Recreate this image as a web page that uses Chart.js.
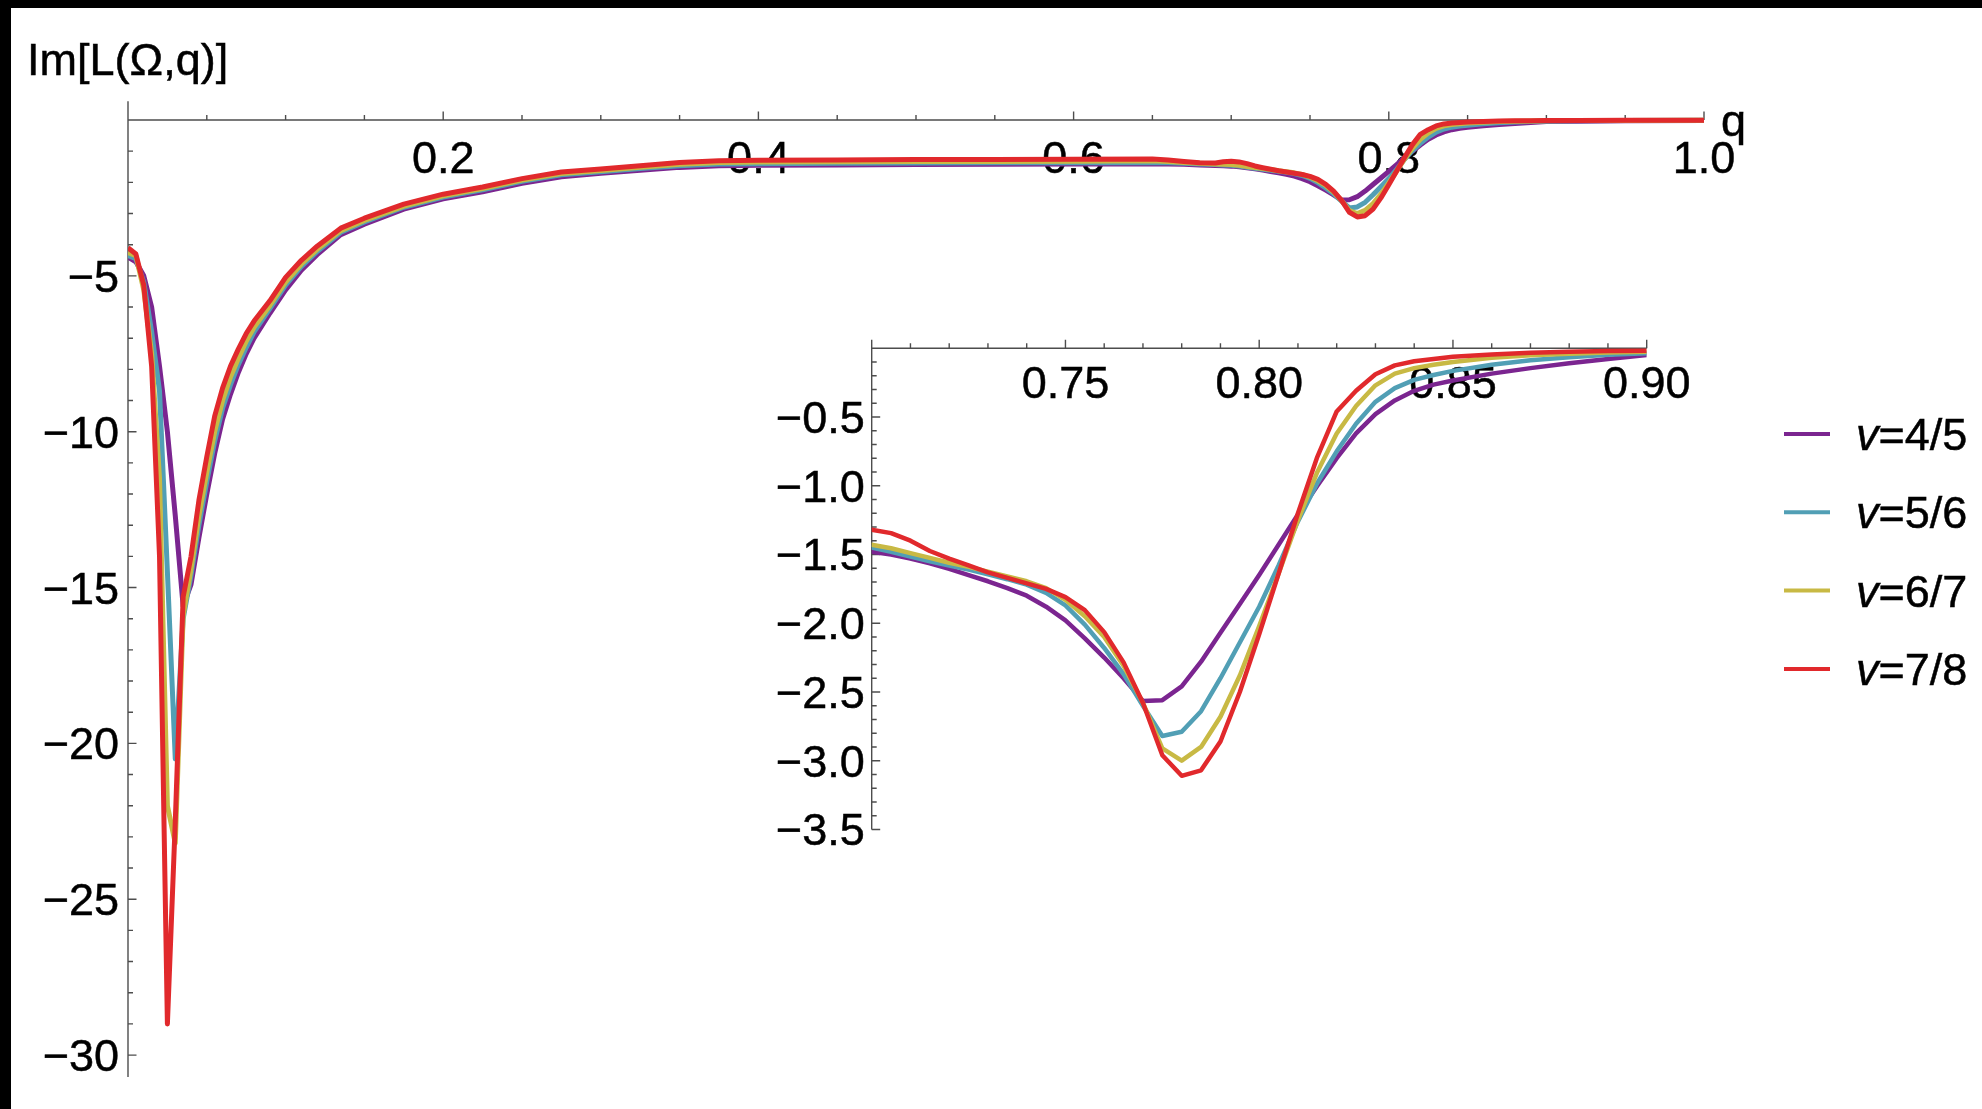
<!DOCTYPE html>
<html>
<head>
<meta charset="utf-8">
<title>Im[L(Ω,q)]</title>
<script src="https://cdn.jsdelivr.net/npm/chart.js@4.4.1/dist/chart.umd.min.js"></script>
<style>
  html, body { margin: 0; padding: 0; width: 1982px; height: 1109px; overflow: hidden; background: #000; }
  #sheet { position: absolute; left: 11px; top: 8px; right: 0; bottom: 0; background: #fff; }
  canvas { position: absolute; left: 0; top: 0; }
</style>
</head>
<body>
<div id="sheet"></div>
<canvas id="mainChart" width="1982" height="1109"></canvas>
<canvas id="insetChart" width="1982" height="1109"></canvas>
<script>
// Momentum samples q
const qValues = [
  0, 0.005, 0.01, 0.015, 0.02, 0.025, 0.03, 0.035, 0.04, 0.045,
  0.05, 0.055, 0.06, 0.065, 0.07, 0.075, 0.08, 0.09, 0.10, 0.11,
  0.12, 0.135, 0.15, 0.175, 0.2, 0.225, 0.25, 0.275, 0.3, 0.325,
  0.35, 0.375, 0.4, 0.45, 0.5, 0.55, 0.6, 0.65, 0.66, 0.67,
  0.68, 0.69, 0.695, 0.70, 0.705, 0.71, 0.715, 0.72, 0.725, 0.73,
  0.735, 0.74, 0.745, 0.75, 0.755, 0.76, 0.765, 0.77, 0.775, 0.78,
  0.785, 0.79, 0.795, 0.80, 0.805, 0.81, 0.815, 0.82, 0.825, 0.83,
  0.835, 0.84, 0.845, 0.85, 0.86, 0.87, 0.88, 0.89, 0.90, 0.92,
  0.95, 1.0
];

// Im[L(Ω,q)] for each filling v
const imL_v45 = [
  -4.40, -4.55, -5.0, -6.0, -7.9, -10.0, -12.7, -15.6, -14.9, -13.4,
  -12.0, -10.7, -9.6, -8.8, -8.1, -7.5, -7.0, -6.2, -5.45, -4.82,
  -4.32, -3.68, -3.34, -2.86, -2.53, -2.30, -2.03, -1.82, -1.71, -1.61,
  -1.52, -1.47, -1.45, -1.44, -1.43, -1.42, -1.41, -1.40, -1.41, -1.42,
  -1.44, -1.46, -1.47, -1.48, -1.50, -1.53, -1.565, -1.605, -1.65, -1.695,
  -1.745, -1.80, -1.88, -1.98, -2.11, -2.25, -2.40, -2.565, -2.56, -2.46,
  -2.28, -2.07, -1.86, -1.65, -1.43, -1.21, -1.0, -0.80, -0.62, -0.48,
  -0.38, -0.31, -0.265, -0.235, -0.185, -0.145, -0.11, -0.078, -0.05, -0.038,
  -0.026, -0.015
];
const imL_v56 = [
  -4.35, -4.45, -5.2, -6.8, -8.7, -14.5, -20.5, -16.0, -14.6, -13.0,
  -11.6, -10.3, -9.25, -8.5, -7.85, -7.3, -6.8, -6.05, -5.3, -4.7,
  -4.22, -3.60, -3.27, -2.80, -2.47, -2.24, -1.97, -1.76, -1.66, -1.56,
  -1.47, -1.41, -1.40, -1.39, -1.38, -1.37, -1.37, -1.36, -1.37, -1.39,
  -1.41, -1.43, -1.44, -1.45, -1.48, -1.515, -1.55, -1.58, -1.61, -1.645,
  -1.68, -1.72, -1.78, -1.87, -2.01, -2.18, -2.37, -2.60, -2.82, -2.79,
  -2.64, -2.40, -2.14, -1.88, -1.58, -1.26, -0.98, -0.75, -0.55, -0.39,
  -0.29, -0.23, -0.195, -0.165, -0.12, -0.088, -0.065, -0.048, -0.036, -0.027,
  -0.019, -0.011
];
const imL_v67 = [
  -4.25, -4.35, -5.45, -7.5, -11.5, -22.0, -23.2, -15.9, -14.4, -12.7,
  -11.3, -10.0, -9.0, -8.25, -7.65, -7.1, -6.65, -5.95, -5.2, -4.62,
  -4.15, -3.55, -3.22, -2.76, -2.43, -2.20, -1.93, -1.72, -1.62, -1.52,
  -1.42, -1.36, -1.35, -1.34, -1.33, -1.33, -1.32, -1.31, -1.33, -1.36,
  -1.39, -1.41, -1.42, -1.43, -1.455, -1.49, -1.525, -1.56, -1.59, -1.625,
  -1.66, -1.695, -1.745, -1.83, -1.95, -2.10, -2.31, -2.58, -2.91, -3.00,
  -2.90, -2.68, -2.38, -2.02, -1.64, -1.25, -0.90, -0.62, -0.42, -0.27,
  -0.185, -0.145, -0.12, -0.10, -0.07, -0.052, -0.040, -0.032, -0.026, -0.020,
  -0.014, -0.008
];
const imL_v78 = [
  -4.10, -4.30, -5.30, -7.90, -14.0, -29.0, -22.5, -15.3, -14.0, -12.2,
  -10.8, -9.5, -8.6, -7.9, -7.35, -6.85, -6.45, -5.8, -5.05, -4.5,
  -4.05, -3.47, -3.15, -2.70, -2.38, -2.15, -1.88, -1.67, -1.57, -1.47,
  -1.36, -1.31, -1.29, -1.28, -1.27, -1.27, -1.26, -1.25, -1.28, -1.33,
  -1.37, -1.38, -1.34, -1.32, -1.345, -1.40, -1.475, -1.53, -1.58, -1.63,
  -1.67, -1.71, -1.75, -1.81, -1.905, -2.065, -2.285, -2.58, -2.96, -3.11,
  -3.07, -2.86, -2.50, -2.08, -1.64, -1.20, -0.79, -0.46, -0.31, -0.19,
  -0.125, -0.095, -0.078, -0.062, -0.045, -0.033, -0.026, -0.021, -0.018, -0.014,
  -0.010, -0.006
];

const seriesLabels = ['v=4/5', 'v=5/6', 'v=6/7', 'v=7/8'];
const seriesValues = [imL_v45, imL_v56, imL_v67, imL_v78];
const seriesColors = ['#7b2590', '#519fb5', '#c8b944', '#e1292c'];

// Tick positions that carry labels
const mainQTicks = [0.2, 0.4, 0.6, 0.8, 1.0];
const mainImTicks = [-5, -10, -15, -20, -25, -30];
const insetQTicks = [0.75, 0.80, 0.85, 0.90];
const insetImTicks = [-0.5, -1.0, -1.5, -2.0, -2.5, -3.0, -3.5];

const FONT_FAMILY = '"Liberation Sans", Arial, Helvetica, sans-serif';
const FONT_SIZE = 45;
const AXIS_COLOR = '#4d4d4d';

function signed(v, digits) {
  const s = Math.abs(v).toFixed(digits);
  return v < 0 ? '\u2212' + s : s;
}

// Filled text with a hairline outline so the glyphs read a little heavier
function drawText(ctx, text, x, y) {
  ctx.fillText(text, x, y);
  ctx.strokeText(text, x, y);
}

function buildDatasets(width) {
  return seriesValues.map((vals, i) => ({
    label: seriesLabels[i],
    data: qValues.map((q, k) => ({ x: q, y: vals[k] })),
    borderColor: seriesColors[i],
    backgroundColor: seriesColors[i],
    borderWidth: width,
    pointRadius: 0,
    tension: 0,
    fill: false,
    borderJoinStyle: 'round',
    borderCapStyle: 'butt',
    order: seriesValues.length - 1 - i,
    clip: { left: 0, right: 0, top: 6, bottom: 6 }
  }));
}

// Mathematica-style axes: lines through the origin, ticks pointing into the first quadrant
const mathAxes = {
  id: 'mathAxes',
  beforeDatasetsDraw(chart, args, o) {
    const ctx = chart.ctx;
    const xs = chart.scales.x, ys = chart.scales.y;
    const X = v => xs.getPixelForValue(v);
    const Y = v => ys.getPixelForValue(v);
    const x0 = X(o.xFrom), y0 = Y(0);
    ctx.save();
    ctx.strokeStyle = AXIS_COLOR;
    ctx.lineWidth = 1.4;
    ctx.lineCap = 'butt';
    ctx.beginPath();
    ctx.moveTo(x0, y0); ctx.lineTo(X(o.xTo), y0);
    ctx.moveTo(x0, Y(o.yTop)); ctx.lineTo(x0, Y(o.yBottom));
    const nX = Math.round((o.xTo - o.xFrom) / o.xMinor);
    for (let i = o.xStartTick; i <= nX; i++) {
      const q = o.xFrom + i * o.xMinor;
      const major = o.xMajor.some(t => Math.abs(t - q) < 1e-9);
      const len = major ? o.majorLen : o.minorLen;
      ctx.moveTo(X(q), y0); ctx.lineTo(X(q), y0 - len);
    }
    const nY = Math.floor(-o.yBottom / o.yMinor + 1e-6);
    for (let j = 1; j <= nY; j++) {
      const v = -j * o.yMinor;
      const major = o.yMajor.some(t => Math.abs(t - v) < 1e-9);
      const len = major ? o.majorLen : o.minorLen;
      ctx.moveTo(x0, Y(v)); ctx.lineTo(x0 + len, Y(v));
    }
    ctx.stroke();

    ctx.fillStyle = '#000';
    ctx.strokeStyle = '#000';
    ctx.lineWidth = 0.5;
    ctx.font = FONT_SIZE + 'px ' + FONT_FAMILY;
    ctx.textBaseline = 'alphabetic';
    ctx.textAlign = 'center';
    o.xLabels.forEach(t => drawText(ctx, t.toFixed(o.xDigits), X(t), y0 + o.xLabelGap));
    ctx.textAlign = 'right';
    o.yLabels.forEach(t => drawText(ctx, signed(t, o.yDigits), x0 - o.yLabelGap, Y(t) + o.capHalf));
    ctx.restore();
  }
};

// Title, axis name and legend of the full-range plot
const sideText = {
  id: 'sideText',
  afterDraw(chart, args, o) {
    const ctx = chart.ctx;
    const xs = chart.scales.x, ys = chart.scales.y;
    ctx.save();
    ctx.fillStyle = '#000';
    ctx.strokeStyle = '#000';
    ctx.lineWidth = 0.5;
    ctx.textAlign = 'left';
    ctx.textBaseline = 'alphabetic';
    ctx.font = FONT_SIZE + 'px ' + FONT_FAMILY;
    drawText(ctx, o.title, o.titleX, o.titleY);
    drawText(ctx, o.axisName, xs.getPixelForValue(1) + 17, ys.getPixelForValue(0) + 16);

    chart.data.datasets.forEach((ds, i) => {
      const cy = o.legendTop + i * o.legendStep;
      ctx.strokeStyle = ds.borderColor;
      ctx.lineWidth = 4;
      ctx.lineCap = 'butt';
      ctx.beginPath();
      ctx.moveTo(o.legendX, cy);
      ctx.lineTo(o.legendX + 46, cy);
      ctx.stroke();
      ctx.strokeStyle = '#000';
      ctx.lineWidth = 0.5;
      const sym = ds.label.slice(0, 1);
      const rest = ds.label.slice(1);
      ctx.font = 'italic ' + FONT_SIZE + 'px ' + FONT_FAMILY;
      drawText(ctx, sym, o.legendX + 72, cy + 16);
      const w = ctx.measureText(sym).width;
      ctx.font = FONT_SIZE + 'px ' + FONT_FAMILY;
      drawText(ctx, rest, o.legendX + 72 + w, cy + 16);
    });
    ctx.restore();
  }
};

new Chart(document.getElementById('mainChart'), {
  type: 'line',
  data: { datasets: buildDatasets(5) },
  options: {
    responsive: false, animation: false, devicePixelRatio: 1, events: [],
    layout: { padding: { left: 128, right: 278, top: 101.3, bottom: 32.1 } },
    scales: {
      x: { type: 'linear', min: 0, max: 1, display: false },
      y: { type: 'linear', min: -30.7, max: 0.6, display: false }
    },
    plugins: {
      legend: { display: false },
      tooltip: { enabled: false },
      mathAxes: {
        xFrom: 0, xTo: 1, xMinor: 0.05, xMajor: mainQTicks, xStartTick: 1,
        yTop: 0.6, yBottom: -30.7, yMinor: 1, yMajor: mainImTicks,
        majorLen: 8.5, minorLen: 5,
        xLabels: mainQTicks, xDigits: 1, xLabelGap: 53,
        yLabels: mainImTicks, yDigits: 0, yLabelGap: 9,
        capHalf: 16
      },
      sideText: {
        title: 'Im[L(\u03A9,q)]', titleX: 27, titleY: 75,
        axisName: 'q', legendX: 1784, legendTop: 434, legendStep: 78.3
      }
    }
  },
  plugins: [mathAxes, sideText]
});

new Chart(document.getElementById('insetChart'), {
  type: 'line',
  data: { datasets: buildDatasets(4.5) },
  options: {
    responsive: false, animation: false, devicePixelRatio: 1, events: [],
    layout: { padding: { left: 871.7, right: 335.3, top: 345.45, bottom: 279.55 } },
    scales: {
      x: { type: 'linear', min: 0.70, max: 0.90, display: false },
      y: { type: 'linear', min: -3.5, max: 0.02, display: false }
    },
    plugins: {
      legend: { display: false },
      tooltip: { enabled: false },
      mathAxes: {
        xFrom: 0.70, xTo: 0.90, xMinor: 0.01, xMajor: [0.70].concat(insetQTicks), xStartTick: 0,
        yTop: 0, yBottom: -3.5, yMinor: 0.1, yMajor: insetImTicks,
        majorLen: 8.5, minorLen: 5,
        xLabels: insetQTicks, xDigits: 2, xLabelGap: 50,
        yLabels: insetImTicks, yDigits: 1, yLabelGap: 7,
        capHalf: 16
      }
    }
  },
  plugins: [mathAxes]
});
</script>
</body>
</html>
